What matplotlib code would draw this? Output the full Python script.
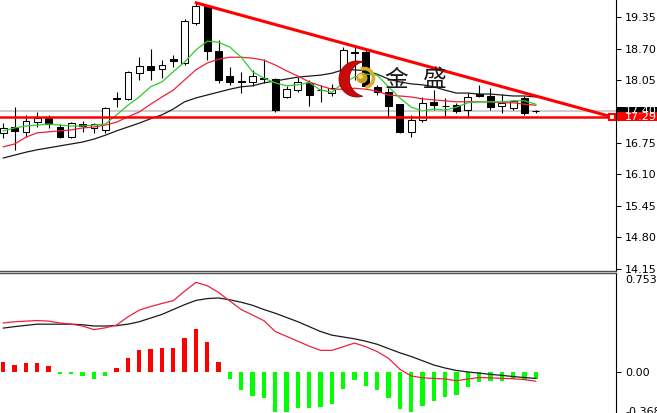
import numpy as np
import matplotlib
matplotlib.use('Agg')
import matplotlib.pyplot as plt
from matplotlib.patches import Rectangle, Circle, PathPatch, Arc
from matplotlib.path import Path
import matplotlib.transforms as mtrans

# ---------------- data ----------------
opens = [16.96, 17.08, 16.97, 17.18, 17.27, 17.08, 16.87, 17.14, 17.06, 17.02,
         17.66, 17.66, 18.19, 18.34, 18.28, 18.48, 18.40, 19.23, 19.58, 18.65,
         18.13, 18.02, 18.01, 18.09, 18.07, 17.70, 17.84, 17.99, 17.85, 17.78,
         18.15, 18.61, 18.63, 17.91, 17.80, 17.55, 16.98, 17.22, 17.60, 17.52,
         17.53, 17.43, 17.76, 17.72, 17.51, 17.47, 17.68, 17.41]
closes = [17.06, 17.00, 17.21, 17.27, 17.14, 16.87, 17.16, 17.10, 17.14, 17.47,
          17.68, 18.22, 18.34, 18.26, 18.36, 18.44, 19.27, 19.58, 18.65, 18.05,
          18.01, 18.01, 18.13, 18.08, 17.43, 17.86, 18.01, 17.74, 17.84, 17.88,
          18.67, 18.63, 17.93, 17.80, 17.51, 16.98, 17.22, 17.58, 17.53, 17.51,
          17.41, 17.70, 17.72, 17.49, 17.58, 17.62, 17.37, 17.40]
highs = [17.16, 17.49, 17.33, 17.39, 17.33, 17.14, 17.18, 17.20, 17.16, 17.49,
         17.80, 18.24, 18.52, 18.69, 18.46, 18.57, 19.31, 19.64, 19.60, 18.88,
         18.32, 18.22, 18.26, 18.48, 18.09, 17.93, 18.11, 18.05, 17.95, 17.97,
         18.73, 18.77, 18.69, 17.95, 17.88, 17.56, 17.33, 17.70, 17.84, 17.68,
         17.58, 17.78, 17.95, 17.88, 17.76, 17.64, 17.72, 17.43]
lows = [16.85, 16.61, 16.87, 17.08, 17.06, 16.85, 16.85, 16.98, 16.96, 16.96,
        17.49, 17.64, 18.05, 18.05, 18.09, 18.32, 18.36, 19.18, 18.46, 17.99,
        17.95, 17.78, 17.93, 17.99, 17.39, 17.68, 17.80, 17.51, 17.60, 17.72,
        18.11, 18.05, 17.88, 17.74, 17.31, 16.96, 16.87, 17.18, 17.43, 17.31,
        17.37, 17.29, 17.70, 17.43, 17.37, 17.43, 17.33, 17.37]

ma_green = [17.00, 17.06, 17.10, 17.12, 17.14, 17.12, 17.10, 17.10, 17.12, 17.14,
            17.33, 17.53, 17.70, 17.91, 18.01, 18.22, 18.42, 18.67, 18.85, 18.83,
            18.73, 18.52, 18.22, 18.09, 17.99, 17.93, 17.95, 18.00, 17.84, 17.80,
            17.99, 18.11, 18.17, 18.15, 17.91, 17.68, 17.49, 17.41, 17.45, 17.43,
            17.49, 17.58, 17.60, 17.60, 17.60, 17.62, 17.62, 17.55]
ma_red = [16.67, 16.73, 16.87, 16.96, 16.98, 17.00, 17.02, 17.06, 17.08, 17.12,
          17.18, 17.29, 17.39, 17.55, 17.70, 17.84, 18.05, 18.26, 18.40, 18.48,
          18.52, 18.52, 18.50, 18.46, 18.36, 18.24, 18.13, 18.01, 17.93, 17.86,
          17.86, 17.88, 17.86, 17.82, 17.74, 17.72, 17.70, 17.66, 17.64, 17.62,
          17.60, 17.60, 17.60, 17.60, 17.58, 17.58, 17.55, 17.53]
ma_black = [16.44, 16.50, 16.56, 16.61, 16.65, 16.69, 16.73, 16.77, 16.83, 16.91,
            17.00, 17.08, 17.16, 17.25, 17.33, 17.45, 17.60, 17.68, 17.74, 17.80,
            17.86, 17.91, 17.93, 17.99, 18.03, 18.07, 18.11, 18.13, 18.15, 18.19,
            18.26, 18.26, 18.24, 18.17, 18.07, 18.01, 17.97, 17.95, 17.91, 17.84,
            17.78, 17.78, 17.76, 17.76, 17.74, 17.72, 17.72, 17.70]

macd_dif = [0.40, 0.41, 0.415, 0.42, 0.415, 0.40, 0.39, 0.375, 0.345, 0.36,
            0.383, 0.45, 0.505, 0.535, 0.56, 0.583, 0.66, 0.733, 0.706, 0.65,
            0.58, 0.51, 0.465, 0.419, 0.33, 0.29, 0.25, 0.21, 0.175, 0.175,
            0.205, 0.235, 0.205, 0.165, 0.11, 0.02, -0.035, -0.05, -0.055, -0.06,
            -0.074, -0.06, -0.048, -0.05, -0.055, -0.058, -0.065, -0.078]
macd_dea = [0.358, 0.37, 0.38, 0.39, 0.39, 0.39, 0.39, 0.385, 0.375, 0.375,
            0.378, 0.39, 0.41, 0.44, 0.47, 0.51, 0.55, 0.585, 0.60, 0.605,
            0.59, 0.57, 0.545, 0.51, 0.48, 0.445, 0.41, 0.37, 0.33, 0.30,
            0.285, 0.27, 0.25, 0.225, 0.19, 0.155, 0.125, 0.09, 0.055, 0.03,
            0.01, -0.002, -0.012, -0.022, -0.03, -0.04, -0.048, -0.055]
macd_hist = [0.082, 0.055, 0.071, 0.071, 0.047, -0.016, -0.016, -0.036, -0.063, -0.033,
             0.027, 0.112, 0.18, 0.19, 0.197, 0.197, 0.28, 0.35, 0.246, 0.077,
             -0.063, -0.148, -0.197, -0.216, -0.328, -0.328, -0.30, -0.30, -0.29, -0.265,
             -0.142, -0.068, -0.115, -0.15, -0.216, -0.306, -0.334, -0.279, -0.238, -0.205,
             -0.19, -0.129, -0.082, -0.08, -0.074, -0.06, -0.066, -0.06]

price_ticks = [19.35, 18.70, 18.05, 16.75, 16.10, 15.45, 14.80, 14.15]
bid_level = 17.40
line_level = 17.29
trend_x = [16.9, 53.7]
trend_y = [19.65, 17.29]
macd_top_label = '0.753'
macd_bottom_label = '-0.368'
logo_text = ['金', '盛']

# ---------------- figure ----------------
W, H = 657, 413
fig = plt.figure(figsize=(W / 100, H / 100), dpi=100)
fig.patch.set_facecolor('white')

ax = fig.add_axes([0, 1 - 271 / H, 616 / W, 271 / H])
ax2 = fig.add_axes([0, 0, 616 / W, (H - 273) / H])

idx = np.arange(len(opens))
o = np.array(opens)
c = np.array(closes)
up = c >= o
body_lo = np.minimum(o, c)
body_h = np.maximum(np.abs(c - o), 0.004)

ax.axhline(bid_level, color='#c4c4c4', lw=1.2, zorder=1)
ax.vlines(idx, lows, highs, color='black', lw=0.8, zorder=2)
ax.bar(idx, body_h, bottom=body_lo, width=0.6,
       color=['white' if u else 'black' for u in up],
       edgecolor='black', linewidth=0.75, zorder=3)
ax.plot(idx, ma_black, color='#1a1a1a', lw=0.9, zorder=4)
ax.plot(idx, ma_red, color='#f0203c', lw=0.9, zorder=4)
ax.plot(idx, ma_green, color='#2ecc2e', lw=0.9, zorder=4)
ax.axhline(line_level, color='#ff0000', lw=1.8, zorder=5)
ax.plot(trend_x, trend_y, color='#ff0000', lw=2.2, zorder=5, solid_capstyle='butt')
ax.plot(trend_x[-1], trend_y[-1], marker='s', ms=5, mfc='white', mec='#ff0000',
        mew=1.5, zorder=6)

ax.set_xlim(-0.29, 54.08)
ax.set_ylim(14.108, 19.701)
ax.set_xticks([])
ax.yaxis.tick_right()
ax.set_yticks(price_ticks)
ax.set_yticklabels([f'{v:.2f}' for v in price_ticks])
ax.tick_params(axis='y', direction='out', length=3.6, width=0.75, pad=3,
               labelsize=8, colors='black')
for s in ['top', 'left']:
    ax.spines[s].set_visible(False)
ax.spines['right'].set_color('black')
ax.spines['right'].set_linewidth(0.8)
ax.spines['bottom'].set_color('#505050')
ax.spines['bottom'].set_linewidth(1.0)

trans = mtrans.blended_transform_factory(ax.transAxes, ax.transData)
for val, fc in [(bid_level, 'black'), (line_level, '#ff0000')]:
    ax.add_patch(Rectangle((1.0 + 1 / 616, val - 0.095), 41 / 616, 0.19,
                           transform=trans, clip_on=False, facecolor=fc,
                           edgecolor='none', zorder=10))
    ax.text(1.0 + 9 / 616, val, f'{val:.2f}', transform=trans, color='white',
            fontsize=8, va='center', ha='left', clip_on=False, zorder=11)

# ---------------- MACD panel ----------------
hist = np.array(macd_hist)
ax2.bar(idx, hist, width=0.38, color=['#ff0000' if h >= 0 else '#00ff00' for h in hist],
        linewidth=0, zorder=2)
ax2.plot(idx, macd_dea, color='#1a1a1a', lw=0.9, zorder=3)
ax2.plot(idx, macd_dif, color='#f0203c', lw=0.9, zorder=3)
ax2.set_xlim(-0.29, 54.08)
ax2.set_ylim(-0.339, 0.810)
ax2.set_xticks([])
ax2.yaxis.tick_right()
ax2.set_yticks([0.0])
ax2.set_yticklabels(['0.00'])
ax2.tick_params(axis='y', direction='out', length=3.6, width=0.75, pad=3,
                labelsize=8, colors='black')
for s in ['bottom', 'left']:
    ax2.spines[s].set_visible(False)
ax2.spines['right'].set_color('black')
ax2.spines['right'].set_linewidth(0.8)
ax2.spines['top'].set_color('#505050')
ax2.spines['top'].set_linewidth(1.0)
ax2.text(1.0 + 9 / 616, 1 - 7 / 140, macd_top_label, transform=ax2.transAxes,
         fontsize=8, va='center', ha='left', clip_on=False)
ax2.text(1.0 + 9 / 616, 1 / 140, macd_bottom_label, transform=ax2.transAxes,
         fontsize=8, va='center', ha='left', clip_on=False)

# ---------------- logo ----------------
pix = mtrans.Affine2D().scale(1 / 100) + fig.dpi_scale_trans


def crescent(cx, cy, r1, icx, icy, r2, n=120):
    dx, dy = icx - cx, icy - cy
    d = np.hypot(dx, dy)
    phi = np.arctan2(dy, dx)
    delta = np.arccos((r1 ** 2 + d ** 2 - r2 ** 2) / (2 * r1 * d))
    t = np.linspace(phi + delta, phi + 2 * np.pi - delta, n)
    outer = np.c_[cx + r1 * np.cos(t), cy + r1 * np.sin(t)]
    p1 = outer[0]
    p2 = outer[-1]
    a1 = np.arctan2(p1[1] - icy, p1[0] - icx) - phi
    a2 = np.arctan2(p2[1] - icy, p2[0] - icx) - phi
    a1 = (a1 + np.pi) % (2 * np.pi) - np.pi
    a2 = (a2 + np.pi) % (2 * np.pi) - np.pi
    if a1 < 0:
        a1, a2 = a2, a1
    s = phi + np.linspace(a2, a1 - 2 * np.pi, n)
    inner = np.c_[icx + r2 * np.cos(s), icy + r2 * np.sin(s)]
    verts = np.vstack([outer, inner, outer[:1]])
    codes = [Path.MOVETO] + [Path.LINETO] * (len(verts) - 2) + [Path.CLOSEPOLY]
    return Path(verts, codes)


cres = crescent(357, H - 79, 18, 367, H - 79, 17.7)
fig.add_artist(PathPatch(cres, transform=pix, facecolor='#c80a0a',
                         edgecolor='#9a0000', lw=0.6, zorder=20))
fig.add_artist(Arc((364, H - 78), 19, 19, theta1=-80, theta2=110, transform=pix,
                   color='#d8ae2a', lw=2.6, zorder=21))
fig.add_artist(Circle((362, H - 78), 5.5, transform=pix, facecolor='#c9a020',
                      edgecolor='none', zorder=22))
fig.add_artist(Circle((360.5, H - 76.5), 2.4, transform=pix, facecolor='#f2dc7a',
                      edgecolor='none', zorder=23))
fig.text(396, H - 80, logo_text[0], transform=pix, fontsize=17,
         family=['Noto Sans CJK SC', 'DejaVu Sans'], ha='center', va='center',
         color='#1a1a1a', zorder=24)
fig.text(435, H - 80, logo_text[1], transform=pix, fontsize=17,
         family=['Noto Sans CJK SC', 'DejaVu Sans'], ha='center', va='center',
         color='#1a1a1a', zorder=24)

fig.savefig('out.png', dpi=100, facecolor='white')
